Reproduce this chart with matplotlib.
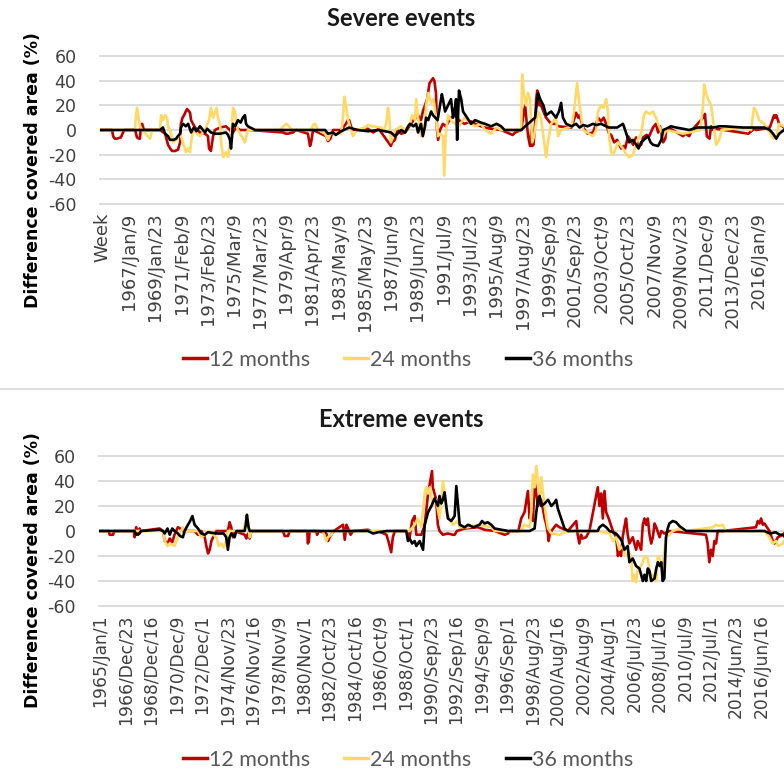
import matplotlib
matplotlib.use("Agg")
import matplotlib.pyplot as plt
from matplotlib.lines import Line2D

# ---------------- data ----------------
top_labels = ["Week", "1967/Jan/9", "1969/Jan/23", "1971/Feb/9", "1973/Feb/23", "1975/Mar/9",
              "1977/Mar/23", "1979/Apr/9", "1981/Apr/23", "1983/May/9", "1985/May/23", "1987/Jun/9",
              "1989/Jun/23", "1991/Jul/9", "1993/Jul/23", "1995/Aug/9", "1997/Aug/23", "1999/Sep/9",
              "2001/Sep/23", "2003/Oct/9", "2005/Oct/23", "2007/Nov/9", "2009/Nov/23", "2011/Dec/9",
              "2013/Dec/23", "2016/Jan/9"]
bottom_labels = ["1965/Jan/1", "1966/Dec/23", "1968/Dec/16", "1970/Dec/9", "1972/Dec/1", "1974/Nov/23",
                 "1976/Nov/16", "1978/Nov/9", "1980/Nov/1", "1982/Oct/23", "1984/Oct/16", "1986/Oct/9",
                 "1988/Oct/1", "1990/Sep/23", "1992/Sep/16", "1994/Sep/9", "1996/Sep/1", "1998/Aug/23",
                 "2000/Aug/16", "2002/Aug/9", "2004/Aug/1", "2006/Jul/23", "2008/Jul/16", "2010/Jul/9",
                 "2012/Jul/1", "2014/Jun/23", "2016/Jun/16"]
y_ticks = [-60, -40, -20, 0, 20, 40, 60]
series_names = ["12 months", "24 months", "36 months"]

# Severe events: (week index, difference %)
severe_12 = [(0,0),(45,0),(49,-5),(55,-7),(63,-7),(78,-6),(86,-2),(90,0),(131,0),(138,-6),(145,-7),(149,-7),
    (153,3),(157,5),(161,2),(164,0),(224,0),(243,-3),(254,-12),(262,-15),(269,-17),(280,-17),(291,-16),
    (299,-10),(302,5),(308,10),(314,12),(320,15),(325,17),(329,16),(336,14),(340,8),(347,5),(355,2),
    (373,-2),(392,-3),(403,-5),(407,-15),(414,-17),(422,-5),(429,0),(448,2),(470,3),(485,0),(493,-3),
    (508,2),(523,0),(560,0),(683,-2),(694,-3),(702,-3),(720,-2),(732,0),(776,-3),(780,-8),(784,-13),
    (788,-10),(791,-6),(795,0),(844,-5),(851,-9),(860,-7),(870,0),(900,0),(918,5),(925,8),(930,8),
    (937,3),(941,0),(1000,1),(1020,-2),(1040,1),(1086,-13),(1090,-10),(1101,-8),(1109,0),(1124,-3),
    (1139,-2),(1161,5),(1170,8),(1180,10),(1187,12),(1198,8),(1205,15),(1213,20),(1221,25),(1230,38),
    (1243,42),(1248,40),(1254,30),(1258,0),(1262,-8),(1269,0),(1280,5),(1290,3),(1299,6),(1310,10),
    (1325,12),(1340,8),(1360,5),(1385,7),(1400,5),(1422,3),(1437,2),(1460,1),(1497,0),(1530,-3),
    (1540,-4),(1550,-2),(1572,0),(1579,10),(1587,20),(1593,5),(1598,-5),(1605,-13),(1610,0),(1613,-13),
    (1618,-12),(1624,5),(1628,25),(1632,32),(1635,30),(1640,20),(1643,22),(1655,15),(1665,10),(1684,5),
    (1702,5),(1710,3),(1760,2),(1777,14),(1785,10),(1790,12),(1803,2),(1820,-3),(1840,-2),(1852,5),
    (1859,10),(1870,7),(1880,10),(1889,5),(1900,-3),(1908,-4),(1919,-10),(1930,-8),(1945,-15),
    (1955,-13),(1960,-15),(1971,-5),(1980,-8),(1990,-12),(2001,-6),(2008,-13),(2020,-12),(2027,-6),
    (2040,-4),(2050,-5),(2064,2),(2075,5),(2083,-2),(2090,3),(2102,-10),(2110,-7),(2113,0),(2130,1),
    (2176,-5),(2185,-3),(2199,-5),(2210,0),(2251,10),(2258,13),(2265,-5),(2275,-7),(2281,3),(2288,0),
    (2300,1),(2420,-3),(2441,1),(2450,0),(2500,2),(2516,12),(2520,10),(2524,12),(2535,5),(2553,2)]
severe_24 = [(0,0),(130,0),(134,10),(138,18),(141,15),(145,8),(150,3),(157,0),(187,-7),(194,0),(224,0),
    (228,12),(235,8),(243,12),(250,10),(254,3),(261,0),(273,-10),(284,-8),(291,-5),(299,-3),(321,-18),
    (329,-15),(336,-18),(340,-10),(347,0),(373,-5),(392,0),(407,8),(414,18),(422,10),(430,15),(435,18),
    (440,10),(448,5),(452,-10),(460,-22),(470,-18),(478,-22),(485,-10),(493,5),(496,18),(504,15),
    (508,5),(515,0),(541,-10),(552,0),(672,0),(694,5),(702,4),(709,2),(720,0),(788,0),(795,4),(803,5),
    (814,0),(840,-3),(851,-8),(860,-3),(870,-2),(900,-3),(907,10),(912,27),(918,20),(926,8),(937,0),
    (944,-5),(960,0),(989,2),(1000,4),(1020,3),(1049,2),(1060,0),(1068,5),(1075,18),(1080,10),
    (1086,-10),(1101,0),(1124,3),(1139,0),(1157,5),(1165,12),(1176,8),(1180,25),(1187,10),(1198,-5),
    (1205,5),(1213,0),(1217,20),(1225,30),(1236,22),(1245,25),(1254,10),(1262,-5),(1269,-3),(1280,-5),
    (1285,-37),(1290,-5),(1299,12),(1310,8),(1325,5),(1340,3),(1360,10),(1385,5),(1400,3),(1422,5),
    (1437,0),(1460,-3),(1480,2),(1497,0),(1540,0),(1572,0),(1576,45),(1582,30),(1590,20),(1598,30),
    (1605,25),(1613,-10),(1620,-5),(1635,15),(1646,10),(1665,-22),(1672,-10),(1684,5),(1702,10),
    (1710,-5),(1721,0),(1760,3),(1769,15),(1777,30),(1781,38),(1790,20),(1803,0),(1840,-5),(1852,0),
    (1859,15),(1870,20),(1880,18),(1889,25),(1896,15),(1900,-5),(1908,-18),(1915,-20),(1934,-10),
    (1952,-15),(1965,-20),(1975,-22),(1990,-20),(2001,-10),(2020,-3),(2030,12),(2038,15),(2050,13),
    (2064,15),(2075,10),(2083,5),(2102,-5),(2113,0),(2176,-3),(2199,-2),(2240,0),(2251,20),(2255,37),
    (2262,30),(2270,25),(2281,20),(2290,5),(2300,-12),(2311,-8),(2320,0),(2400,2),(2430,0),(2441,18),
    (2450,15),(2460,8),(2480,5),(2512,-7),(2524,-5),(2535,5),(2553,3)]
severe_36 = [(0,0),(224,0),(235,2),(243,-3),(254,-5),(261,-8),(275,-8),(284,-7),(291,-5),(299,-3),(302,2),
    (310,5),(320,3),(329,5),(340,-2),(350,2),(360,-1),(373,3),(392,-2),(400,1),(414,-2),(429,-3),
    (448,-3),(470,-2),(478,-4),(485,-8),(489,-15),(493,-5),(496,5),(504,3),(515,8),(525,6),(533,10),
    (541,12),(545,5),(552,3),(579,0),(840,0),(851,-3),(870,-2),(880,-4),(900,-1),(930,2),(960,0),
    (1000,-1),(1040,0),(1086,-2),(1101,-5),(1110,-3),(1124,0),(1139,-2),(1150,3),(1157,5),(1170,3),
    (1180,5),(1187,-2),(1198,5),(1205,-5),(1213,3),(1217,10),(1225,8),(1236,15),(1243,12),(1260,8),
    (1269,20),(1276,29),(1280,25),(1288,15),(1299,20),(1310,25),(1318,10),(1325,18),(1329,25),
    (1333,-8),(1337,15),(1340,32),(1348,25),(1355,15),(1370,10),(1385,5),(1400,8),(1422,6),(1437,5),
    (1460,3),(1480,5),(1497,3),(1510,0),(1572,0),(1587,3),(1598,5),(1613,8),(1624,10),(1635,30),
    (1643,25),(1655,20),(1665,12),(1684,15),(1702,10),(1713,15),(1721,22),(1728,10),(1740,5),(1760,3),
    (1777,5),(1790,2),(1803,4),(1820,3),(1840,5),(1852,4),(1870,5),(1889,3),(1900,2),(1930,2),
    (1952,5),(1960,0),(1975,-10),(1990,-8),(2001,-12),(2010,-15),(2020,-10),(2030,-8),(2045,-5),
    (2055,-10),(2064,-12),(2083,-13),(2095,-8),(2102,0),(2113,1),(2131,3),(2150,2),(2176,1),(2199,0),
    (2230,2),(2255,2),(2290,2),(2311,3),(2330,3),(2400,2),(2480,2),(2500,0),(2512,-3),(2524,-7),
    (2535,-3),(2553,0)]

# Extreme events: (week index, difference %)
extreme_12 = [(0,0),(35,0),(38,-3),(50,-3),(55,0),(125,0),(127,-5),(133,3),(140,-3),(145,2),(150,0),
    (217,2),(229,0),(235,-8),(245,-10),(253,-6),(262,-9),(270,-3),(282,3),(290,2),(300,0),(342,0),
    (354,-3),(366,0),(378,-5),(384,-12),(390,-18),(396,-15),(402,-8),(408,-5),(420,0),(461,0),(467,7),
    (473,3),(479,-5),(485,0),(521,-3),(527,-6),(533,-2),(539,-6),(545,0),(658,0),(664,-4),(676,-4),
    (682,0),(745,0),(747,-10),(751,-8),(753,0),(777,0),(780,-3),(785,0),(813,-2),(819,-8),(825,-5),
    (831,-3),(840,0),(873,5),(879,-7),(885,5),(891,2),(900,-3),(908,0),(962,1),(980,-1),(998,0),
    (1028,-3),(1035,-8),(1045,-17),(1051,-5),(1058,0),(1099,0),(1105,-2),(1111,-5),(1120,8),(1129,12),
    (1135,-3),(1153,-3),(1165,5),(1177,30),(1185,40),(1191,48),(1194,35),(1206,25),(1212,5),(1218,0),
    (1230,-3),(1248,-2),(1266,-3),(1272,-3),(1280,0),(1308,2),(1355,3),(1379,1),(1415,0),(1451,-3),
    (1463,-2),(1469,0),(1500,0),(1510,10),(1522,15),(1534,32),(1540,10),(1546,15),(1552,8),(1558,40),
    (1564,30),(1570,20),(1582,25),(1594,10),(1600,5),(1606,-3),(1608,-8),(1612,-3),(1618,0),(1635,5),
    (1647,3),(1677,0),(1707,8),(1712,-3),(1718,-10),(1724,-3),(1730,-6),(1742,-5),(1754,0),(1784,35),
    (1790,20),(1796,30),(1802,10),(1808,32),(1814,15),(1823,10),(1838,0),(1850,-5),(1856,-20),
    (1861,-15),(1867,-20),(1873,-5),(1879,3),(1885,10),(1891,-3),(1897,-10),(1909,-5),(1921,-15),
    (1927,-8),(1939,-15),(1945,5),(1951,10),(1957,5),(1963,10),(1969,-3),(1975,-10),(1981,-5),
    (1987,6),(1993,3),(2005,-5),(2011,0),(2022,-2),(2040,0),(2171,-3),(2177,-10),(2183,-25),
    (2189,-15),(2195,-20),(2201,-8),(2207,-10),(2213,0),(2231,0),(2350,3),(2356,8),(2362,6),(2368,10),
    (2374,5),(2380,6),(2398,0),(2410,-8),(2416,-10),(2428,-5),(2446,-3),(2450,-2)]
extreme_24 = [(0,0),(229,0),(235,-8),(245,-12),(253,-10),(262,-11),(270,-12),(282,-5),(300,3),(306,-2),
    (318,0),(354,0),(366,-5),(378,-3),(390,0),(420,-5),(428,-12),(437,-10),(446,-13),(455,-8),(461,0),
    (515,0),(521,5),(529,12),(535,2),(539,-5),(545,0),(800,0),(813,-8),(819,-5),(831,-3),(840,0),
    (1111,0),(1129,5),(1140,10),(1153,3),(1165,30),(1170,35),(1177,30),(1183,35),(1194,20),(1206,25),
    (1218,10),(1230,40),(1236,30),(1242,15),(1254,10),(1266,5),(1284,8),(1290,3),(1320,3),(1355,5),
    (1379,4),(1403,3),(1415,0),(1510,0),(1522,5),(1540,3),(1546,15),(1552,45),(1558,35),(1564,52),
    (1570,40),(1576,25),(1582,43),(1588,30),(1600,10),(1606,2),(1618,-2),(1649,-3),(1665,-1),(1700,0),
    (1784,0),(1826,-2),(1838,-8),(1850,-5),(1861,-15),(1873,-12),(1885,-20),(1897,-18),(1903,-20),
    (1909,-40),(1915,-35),(1921,-41),(1927,-30),(1933,-30),(1945,-25),(1951,-20),(1963,-22),(1975,-40),
    (1981,-35),(1993,-40),(1999,-20),(2011,-25),(2016,-30),(2028,-5),(2040,-3),(2052,0),(2076,2),
    (2100,0),(2195,3),(2207,5),(2219,4),(2231,5),(2240,0),(2380,0),(2398,-5),(2410,-10),(2422,-8),
    (2430,-12),(2446,-10),(2450,-8)]
extreme_36 = [(0,0),(127,0),(133,-3),(145,-2),(150,0),(217,1),(229,0),(235,-2),(245,2),(253,-3),(262,2),
    (270,0),(282,-2),(290,-4),(300,-5),(306,0),(318,5),(326,8),(334,12),(342,5),(354,2),(366,-2),
    (378,-3),(390,-1),(420,-2),(446,-2),(455,-5),(461,-15),(467,-5),(473,-2),(485,-5),(491,0),(521,0),
    (525,5),(529,13),(535,3),(539,0),(962,0),(980,-2),(998,-1),(1030,0),(1099,0),(1105,-8),(1111,-6),
    (1120,-10),(1129,-8),(1135,-12),(1147,-8),(1159,-15),(1165,5),(1171,10),(1177,15),(1189,20),
    (1200,26),(1212,20),(1218,28),(1224,22),(1230,25),(1236,31),(1242,20),(1248,10),(1260,8),(1272,12),
    (1278,36),(1284,20),(1290,5),(1308,3),(1320,5),(1340,3),(1361,5),(1370,8),(1379,6),(1390,7),
    (1403,5),(1415,2),(1463,0),(1540,0),(1558,2),(1564,15),(1570,25),(1576,28),(1582,20),(1594,22),
    (1606,25),(1618,20),(1630,23),(1635,25),(1641,18),(1653,10),(1665,2),(1677,0),(1784,0),(1790,3),
    (1802,5),(1814,3),(1826,0),(1849,-2),(1861,-5),(1870,-8),(1879,-15),(1891,-12),(1897,-25),
    (1909,-22),(1921,-28),(1933,-30),(1945,-40),(1951,-35),(1957,-40),(1963,-30),(1969,-32),(1975,-40),
    (1987,-38),(1993,-30),(1999,-25),(2005,-28),(2011,-25),(2016,-40),(2022,-38),(2028,-5),(2034,2),
    (2040,6),(2052,8),(2064,7),(2076,4),(2088,2),(2100,0),(2380,0),(2400,-2),(2420,-1),(2435,-3),
    (2446,-3),(2450,-4)]

# ---------------- style ----------------
colors = ["#C00000", "#FFD966", "#000000"]
W, H = 784, 772
fig = plt.figure(figsize=(W / 100, H / 100), dpi=100)


def rect(left, top, right, bottom):
    return [left / W, 1 - bottom / H, (right - left) / W, (bottom - top) / H]


panels = [
    dict(rect=rect(100, 56, 784, 204), series=[severe_12, severe_24, severe_36], labels=top_labels,
         tick0=9, step=98, xmax=2553, title="Severe events", title_y=19, ylab_y=170, leg_y=360, xfs=13),
    dict(rect=rect(99, 456, 784, 606), series=[extreme_12, extreme_24, extreme_36], labels=bottom_labels,
         tick0=4, step=91, xmax=2450, title="Extreme events", title_y=419, ylab_y=570, leg_y=760, xfs=12.3),
]

for p in panels:
    ax = fig.add_axes(p["rect"])
    for pts, c in zip(p["series"], colors):
        xs, ys = zip(*pts)
        ax.plot(xs, ys, color=c, lw=1.9, solid_joinstyle="round")
    ax.set_xlim(0, p["xmax"])
    ax.set_ylim(-60, 60)
    ax.set_yticks(y_ticks)
    ax.set_yticklabels([str(v) for v in y_ticks])
    ax.set_xticks([p["tick0"] + p["step"] * i for i in range(len(p["labels"]))])
    ax.set_xticklabels(p["labels"], rotation=90)
    ax.grid(axis="y", color="#d9d9d9", lw=1.3)
    ax.set_axisbelow(True)
    for gl in ax.get_ygridlines():
        gl.set_clip_on(False)
    for s in ax.spines.values():
        s.set_visible(False)
    ax.tick_params(axis="both", length=0, labelcolor="#404040")
    ax.tick_params(axis="y", labelsize=12.5, pad=17)
    ax.tick_params(axis="x", labelsize=p["xfs"], pad=6)

    fig.text(401 / W, 1 - p["title_y"] / H, p["title"], ha="center", va="center",
             fontsize=17, fontweight="bold", family="Lato", color="#1a1a1a")
    fig.text(33 / W, 1 - p["ylab_y"] / H, "Difference covered area (%)", rotation=90,
             ha="center", va="center", fontsize=12.5, fontweight="bold", color="#000000")
    handles = [Line2D([], [], color=c, lw=2.5) for c in colors]
    fig.legend(handles, series_names, loc="center", bbox_to_anchor=(408 / W, 1 - p["leg_y"] / H),
               ncol=3, frameon=False, prop={"family": "Lato", "size": 15.5}, labelcolor="#595959",
               handlelength=1.1, handletextpad=0.1, columnspacing=1.6)

fig.add_artist(Line2D([0, 1], [1 - 389 / H] * 2, color="#d9d9d9", lw=1.2, transform=fig.transFigure))

fig.savefig("out.png", dpi=100)
